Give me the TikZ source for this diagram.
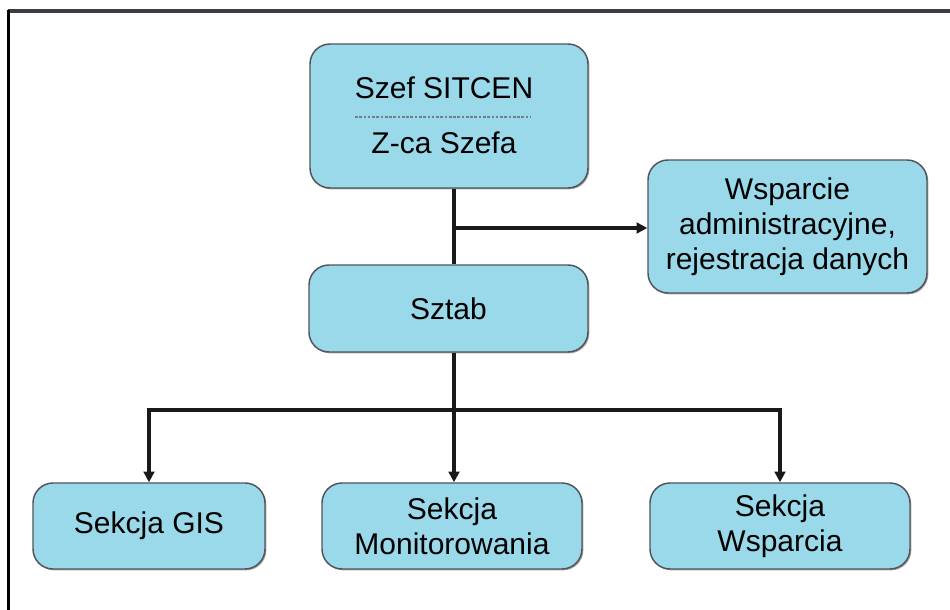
\documentclass[tikz,border=0pt]{standalone}
\usepackage{fontspec}
\setmainfont{Liberation Sans}
\usetikzlibrary{arrows.meta,shadows}
\definecolor{boxfill}{RGB}{153,217,234}
\definecolor{boxline}{RGB}{80,84,90}
\definecolor{framegray}{RGB}{60,60,70}
\definecolor{dashgray}{RGB}{110,130,140}
\tikzset{
  orgbox/.style={draw=boxline, line width=1.1pt, fill=boxfill, rounded corners=15pt,
    align=center, inner sep=0pt, font=\fontsize{22.5}{26.3}\selectfont,
    drop shadow={shadow xshift=1pt, shadow yshift=-1pt, opacity=0.35, fill=black}},
  conn/.style={line width=2.5pt, draw=black!90},
  arr/.style={conn, -{Triangle[length=8pt,width=8pt]}}
}
\begin{document}
\begin{tikzpicture}[x=0.75pt,y=-0.75pt]
\useasboundingbox (0,0) rectangle (950,610);
\fill[white] (0,0) rectangle (950,610);
% frame
\draw[framegray, line width=3pt] (8,11) -- (950,11);
\draw[black, line width=2.4pt] (8.5,10) -- (8.5,610);
% nodes
\node[orgbox, minimum width=278*0.75pt, minimum height=144*0.75pt] (top) at (449,116) {};
\node[font=\fontsize{22.5}{26.3}\selectfont] (t1) at (444,88) {Szef SITCEN};
\node[font=\fontsize{22.5}{26.3}\selectfont] (t2) at (444,143) {Z-ca Szefa};
\draw[dashgray, line width=1pt, dash pattern=on 2pt off 1.2pt] (355,117) -- (530,117);
\node[orgbox, minimum width=279*0.75pt, minimum height=133*0.75pt] (adm) at (787.5,226.5)
  {Wsparcie\\administracyjne,\\rejestracja danych};
\node[orgbox, minimum width=279*0.75pt, minimum height=87*0.75pt] (sztab) at (448.5,308.5) {Sztab};
\node[orgbox, minimum width=232*0.75pt, minimum height=86*0.75pt] (gis) at (149,526) {Sekcja GIS};
\node[orgbox, minimum width=260*0.75pt, minimum height=86*0.75pt] (mon) at (452,526) {Sekcja\\Monitorowania};
\node[orgbox, minimum width=260*0.75pt, minimum height=86*0.75pt] (wsp) at (780,526) {Sekcja\\Wsparcia};
% connectors
\coordinate (j1) at (454,228);
\coordinate (j2) at (454,410);
\draw[conn] (top.south -| j1) -- (sztab.north -| j1);
\draw[arr] (j1) -- (adm.west |- j1);
\draw[arr] (sztab.south -| j2) -- (mon.north -| j2);
\draw[arr] (j2) -| (gis.north);
\draw[arr] (j2) -| (wsp.north);
\end{tikzpicture}
\end{document}
